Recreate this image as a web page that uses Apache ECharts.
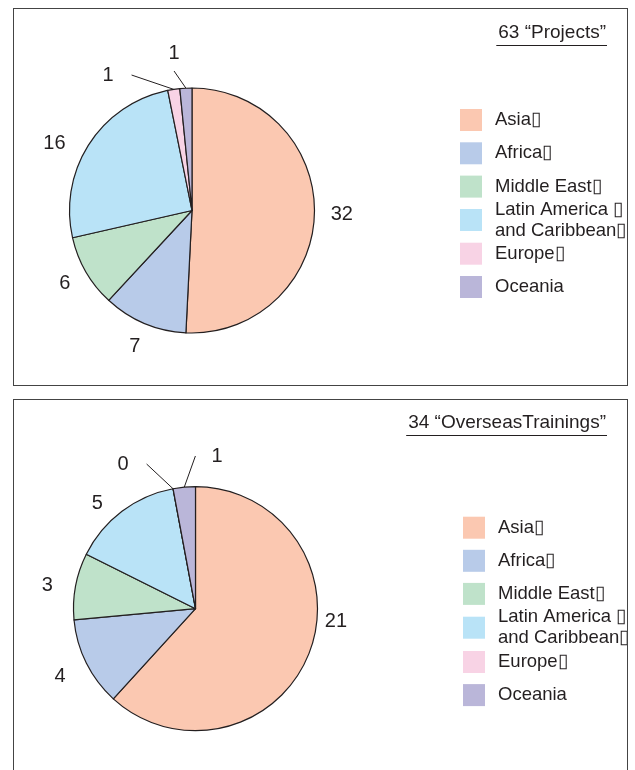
<!DOCTYPE html>
<html>
<head>
<meta charset="utf-8">
<script src="https://cdn.jsdelivr.net/npm/echarts@6/dist/echarts.min.js"></script>
<style>
  html, body { margin: 0; padding: 0; background: #fff; width: 635px; height: 770px; overflow: hidden; }
  .panel { position: absolute; left: 13px; width: 613px; border: 1px solid #444; background: #fff; }
  #projects { top: 8px; height: 376px; }
  #trainings { top: 399px; height: 380px; }
</style>
</head>
<body>
<div id="projects" class="panel"></div>
<div id="trainings" class="panel"></div>
<script>
// Regions, in drawing order (clockwise from 12 o'clock)
const regions = ['Asia', 'Africa', 'Middle East', 'Latin America and Caribbean', 'Europe', 'Oceania'];
// Legend wording as printed
const legendNames = ['Asia▯', 'Africa▯', 'Middle East▯', 'Latin America ▯\nand Caribbean▯', 'Europe▯', 'Oceania'];
const regionColors = ['#fbc8b1', '#b8cbe9', '#bfe2ca', '#b9e3f7', '#f8d3e5', '#bab6d9'];

// Counts per region
const projectCounts = [32, 7, 6, 16, 1, 1];
const trainingCounts = [21, 4, 3, 5, 0, 1];
const projectLabel = '“Projects”';
const trainingLabel = '“OverseasTrainings”';

const FONT = '"Liberation Sans", Arial, Helvetica, sans-serif';
const INK = '#231f20';
const VALUE_SIZE = 20;
const TITLE_SIZE = 19;

const total = arr => arr.reduce((a, b) => a + b, 0);

// width of a title string in the title font
const measureCtx = document.createElement('canvas').getContext('2d');
function textWidth(str) {
  measureCtx.font = TITLE_SIZE + 'px ' + FONT;
  return measureCtx.measureText(str).width;
}

// Places each value label around the pie; "spots" give clock angle (deg) and
// distance for labels that sit off their slice's mid-angle, plus leader lines.
function makeLabelLayout(cfg) {
  return function (params) {
    const pts = params.labelLinePoints;
    if (!pts) return;
    const cx = cfg.center[0], cy = cfg.center[1];
    const p0 = pts[0];
    const name = regions[params.dataIndex];
    const spot = cfg.spots[name] || {};
    let ang = Math.atan2(p0[1] - cy, p0[0] - cx);
    if (spot.angle != null) ang = (spot.angle - 90) * Math.PI / 180;
    const ux = Math.cos(ang), uy = Math.sin(ang);
    const w = params.labelRect.width, h = VALUE_SIZE * 0.72;
    const dist = spot.dist != null ? spot.dist
      : cfg.radius + cfg.gap + Math.abs(ux) * w / 2 + Math.abs(uy) * h / 2;
    const x = cx + ux * dist, y = cy + uy * dist;
    let line = [[p0[0], p0[1]], [p0[0], p0[1]]];
    if (spot.side === 'left') line = [[p0[0], p0[1]], [x + w / 2 + 18, y]];
    else if (spot.side === 'right') line = [[p0[0], p0[1]], [x - w / 2 - 16, y]];
    else if (spot.side === 'above') line = [[p0[0], p0[1]], [x, y + 18]];
    return { x: x, y: y, align: 'center', verticalAlign: 'middle', labelLinePoints: line };
  };
}

function legendBlock(names, left, top, gap) {
  return {
    data: names.map(n => ({ name: n, icon: 'rect' })),
    orient: 'vertical', left: left, top: top, itemGap: gap,
    itemWidth: 22, itemHeight: 22, padding: 0, selectedMode: false,
    itemStyle: { borderWidth: 0 },
    formatter: n => legendNames[regions.indexOf(n)],
    textStyle: { fontSize: 18.5, lineHeight: 21, color: INK, fontFamily: FONT, padding: [0, 0, 0, 8] }
  };
}

function buildOption(values, label, cfg, chartWidth) {
  const titleText = total(values) + ' ' + label;
  const ruleRight = chartWidth - cfg.titleRight + 1;
  const ruleLeft = ruleRight - textWidth(titleText) - 3;
  const ruleY = cfg.titleTop + 24.5;
  return {
    animation: false,
    title: {
      text: titleText,
      right: cfg.titleRight, top: cfg.titleTop, padding: 0,
      textStyle: { fontSize: TITLE_SIZE, fontWeight: 'normal', color: INK, fontFamily: FONT, lineHeight: 24 }
    },
    graphic: [{
      type: 'line', silent: true,
      shape: { x1: ruleLeft, y1: ruleY, x2: ruleRight, y2: ruleY },
      style: { stroke: INK, lineWidth: 1 }
    }],
    legend: [
      legendBlock(regions.slice(0, 3), cfg.legendLeft, cfg.legendTops[0], cfg.legendGap),
      legendBlock(regions.slice(3, 4), cfg.legendLeft, cfg.legendTops[1], cfg.legendGap),
      legendBlock(regions.slice(4), cfg.legendLeft, cfg.legendTops[2], cfg.legendGap)
    ],
    series: [{
      type: 'pie',
      center: cfg.center,
      radius: cfg.radius,
      startAngle: 90,
      clockwise: true,
      avoidLabelOverlap: false,
      data: regions.map((name, i) => ({ name: name, value: values[i], itemStyle: { color: regionColors[i] } })),
      itemStyle: { borderColor: INK, borderWidth: 1.2 },
      label: { show: true, position: 'outside', formatter: '{c}', color: INK, fontSize: VALUE_SIZE, fontFamily: FONT },
      labelLine: { show: true, length: 10, length2: 0, smooth: false, lineStyle: { color: INK, width: 1 } },
      labelLayout: makeLabelLayout(cfg),
      emphasis: { disabled: true }
    }]
  };
}

const projectCfg = {
  center: [178, 201.5], radius: 122.5, gap: 16,
  titleRight: 21, titleTop: 12,
  legendLeft: 446, legendTops: [100, 190, 233.7], legendGap: 11.3,
  spots: {
    'Latin America and Caribbean': { angle: 296, dist: 153 },
    'Europe': { angle: 328.2, dist: 159.4, side: 'left' },
    'Oceania': { angle: 353.5, dist: 158.5, side: 'above' }
  }
};

const trainingCfg = {
  center: [181.5, 208.7], radius: 122, gap: 21,
  titleRight: 21, titleTop: 11,
  legendLeft: 449, legendTops: [116.7, 206.7, 251], legendGap: 11.1,
  spots: {
    'Asia': { angle: 95, dist: 141 },
    'Middle East': { angle: 279, dist: 150 },
    'Latin America and Caribbean': { angle: 317, dist: 144 },
    'Europe': { angle: 333.4, dist: 161.8, side: 'left' },
    'Oceania': { angle: 8, dist: 154.2, side: 'right' }
  }
};

const projectsEl = document.getElementById('projects');
const trainingsEl = document.getElementById('trainings');
echarts.init(projectsEl, null, { renderer: 'canvas' })
  .setOption(buildOption(projectCounts, projectLabel, projectCfg, projectsEl.clientWidth));
echarts.init(trainingsEl, null, { renderer: 'canvas' })
  .setOption(buildOption(trainingCounts, trainingLabel, trainingCfg, trainingsEl.clientWidth));
</script>
</body>
</html>
